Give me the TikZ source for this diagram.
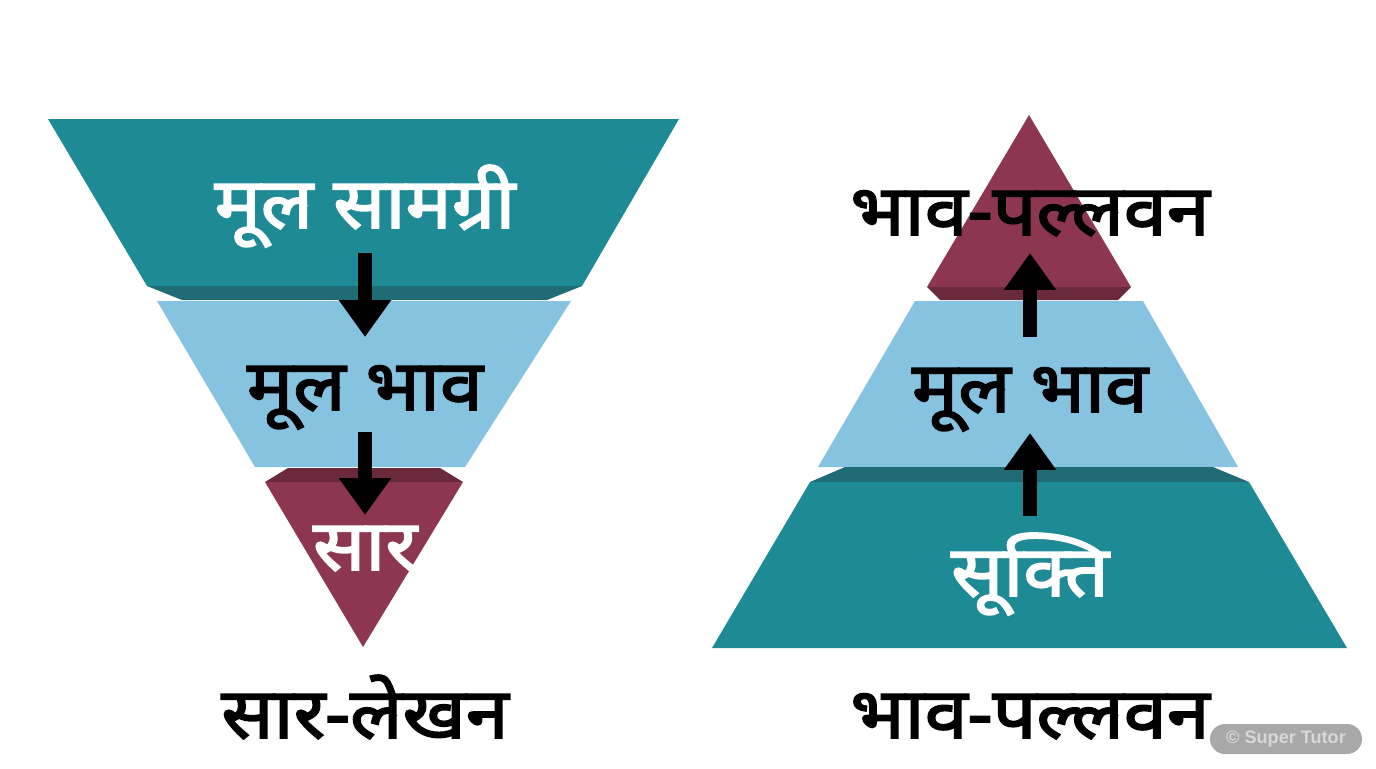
\documentclass[tikz,border=0pt]{standalone}
\usepackage{fontspec}
\newfontfamily\deva[Script=Devanagari, FakeBold=2.5, FakeStretch=1.1]{Noto Sans}
\newfontfamily\wmfont{Liberation Sans}
\usepackage{xcolor}
\usepackage{tikz}
\usetikzlibrary{arrows.meta}
\definecolor{layerTeal}{HTML}{1D8A96}
\definecolor{layerTealDark}{HTML}{1F6C77}
\definecolor{layerBlue}{HTML}{86C3E1}
\definecolor{layerRed}{HTML}{8C3650}
\definecolor{layerRedDark}{HTML}{6A2A3C}
\definecolor{wmGray}{HTML}{A8A8A8}
\definecolor{wmText}{HTML}{D8D8D8}
\tikzstyle{whitetext} = [font={\deva\fontsize{40}{48}\selectfont}, text=white, inner sep=0pt, anchor=base]
\tikzstyle{blacktext} = [font={\deva\fontsize{40}{48}\selectfont}, text=black, inner sep=0pt, anchor=base]
\tikzstyle{flow} = [line width=0.28cm, -{Triangle[width=1cm,length=0.74cm]}]
\tikzstyle{wmbox} = [rectangle, rounded corners=0.3cm, fill=wmGray, text=wmText, minimum width=3.04cm, minimum height=0.6cm, font={\wmfont\bfseries\fontsize{10.3}{12}\selectfont}]

\begin{document}
\begin{tikzpicture}
			[x=0.02cm, y=-0.02cm]
			\useasboundingbox (0,0) rectangle (1376,768);
			% funnel
			\fill[layerTeal] (48,119) -- (679,119) -- (582,286) -- (147,286) -- cycle;
			\fill[layerTealDark] (147,286) -- (582,286) -- (547,300) -- (182,300) -- cycle;
			\fill[layerBlue] (157,301) -- (571,301) -- (465,467) -- (255,467) -- cycle;
			\fill[layerRedDark] (288,468) -- (440,468) -- (463,482) -- (265,482) -- cycle;
			\fill[layerRed] (265,482) -- (463,482) -- (363,647) -- cycle;
			% pyramid
			\fill[layerRed] (1029,115) -- (1131,287) -- (927,287) -- cycle;
			\fill[layerRedDark] (927,287) -- (1131,287) -- (1118,300) -- (940,300) -- cycle;
			\fill[layerBlue] (915,301) -- (1143,301) -- (1238,467) -- (818,467) -- cycle;
			\fill[layerTealDark] (845,467) -- (1213,467) -- (1249,482) -- (810,482) -- cycle;
			\fill[layerTeal] (810,482) -- (1249,482) -- (1347,648) -- (712,648) -- cycle;

			\node[whitetext] (source) at (365,228) {मूल सामग्री};
			\node[blacktext] (coreL) at (365,410) {मूल भाव};
			\node[whitetext] (essence) at (365,570) {सार};
			\node[blacktext] (titleL) at (365,738) {सार-लेखन};

			\node[whitetext] (maxim) at (1030,596) {सूक्ति};
			\node[blacktext] (coreR) at (1030,412) {मूल भाव};
			\node[blacktext] (expand) at (1030,235) {भाव-पल्लवन};
			\node[blacktext] (titleR) at (1030,738) {भाव-पल्लवन};

			\draw[flow, shorten <=0.5cm, shorten >=1.46cm] (source.base) -- (coreL.base);
			\draw[flow, shorten <=0.44cm, shorten >=1.1cm] (coreL.base) -- (essence.base);
			\draw[flow, shorten <=1.6cm, shorten >=0.42cm] (maxim.base) -- (coreR.base);
			\draw[flow, shorten <=1.5cm, shorten >=0.36cm] (coreR.base) -- (expand.base);

			\node[wmbox] (mark) at (1286,739) {© Super Tutor};
			\end{tikzpicture}
\end{document}
